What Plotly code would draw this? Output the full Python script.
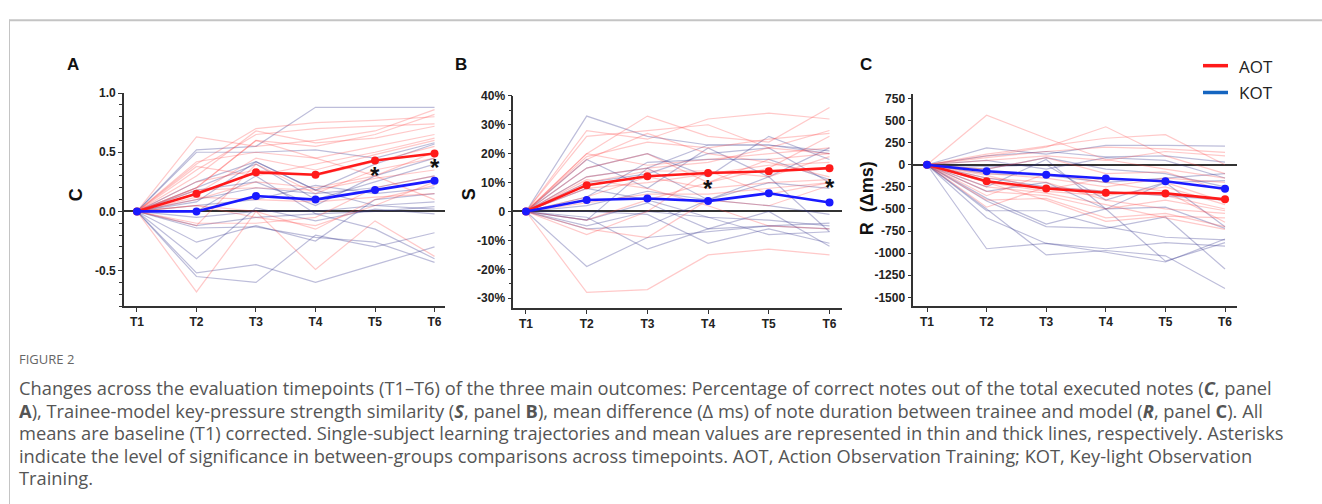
import plotly.graph_objects as go

W, H = 1322, 504
timepoints = ["T1", "T2", "T3", "T4", "T5", "T6"]

# ---------------- Panel A: C (correct notes) ----------------
aot_c_mean = [0, 0.15, 0.33, 0.31, 0.43, 0.49]
kot_c_mean = [0, 0.00, 0.13, 0.10, 0.18, 0.26]
aot_c_subjects = [
    [0, 0.63, 0.55, 0.60, 0.68, 0.86],
    [0, 0.40, 0.70, 0.75, 0.77, 0.80],
    [0, 0.35, 0.65, 0.70, 0.72, 0.74],
    [0, 0.30, 0.68, 0.58, 0.62, 0.72],
    [0, 0.20, 0.60, 0.55, 0.65, 0.82],
    [0, 0.42, 0.50, 0.45, 0.55, 0.65],
    [0, 0.38, 0.30, 0.40, 0.50, 0.62],
    [0, 0.15, 0.45, 0.35, 0.48, 0.60],
    [0, 0.25, 0.35, 0.30, 0.42, 0.55],
    [0, 0.10, 0.25, 0.20, 0.30, 0.50],
    [0, -0.12, 0.40, 0.15, 0.35, 0.45],
    [0, 0.18, 0.20, 0.18, 0.28, 0.35],
    [0, -0.68, 0.00, -0.15, 0.10, 0.22],
    [0, 0.05, 0.00, -0.49, -0.08, -0.38],
    [0, -0.10, -0.10, -0.05, 0.20, 0.30],
    [0, 0.12, 0.10, 0.08, 0.12, 0.15],
    [0, 0.20, 0.60, 0.45, 0.30, 0.10],
    [0, 0.05, -0.05, -0.12, 0.05, 0.25],
]
kot_c_subjects = [
    [0, 0.52, 0.55, 0.88, 0.88, 0.88],
    [0, 0.50, 0.50, 0.52, 0.45, 0.58],
    [0, 0.25, 0.42, 0.18, 0.40, 0.57],
    [0, 0.18, 0.25, 0.05, 0.30, 0.45],
    [0, 0.20, 0.40, 0.10, 0.25, 0.40],
    [0, 0.10, 0.20, 0.15, 0.20, 0.30],
    [0, 0.05, 0.10, 0.22, 0.15, 0.20],
    [0, -0.05, 0.00, 0.00, 0.05, 0.08],
    [0, -0.12, -0.05, -0.02, 0.00, 0.04],
    [0, -0.26, -0.12, -0.25, 0.10, 0.15],
    [0, -0.40, 0.03, -0.08, 0.02, -0.02],
    [0, -0.52, -0.45, -0.60, -0.45, -0.30],
    [0, -0.55, -0.60, -0.20, -0.30, -0.18],
    [0, -0.14, -0.13, -0.22, -0.26, -0.43],
    [0, 0.00, 0.30, -0.02, -0.15, -0.40],
    [0, 0.08, 0.42, 0.18, 0.05, 0.02],
]
c_ticks = [-0.5, 0.0, 0.5, 1.0]
c_ticktext = ["-0.5", "0.0", "0.5", "1.0"]

# ---------------- Panel B: S (strength similarity) ----------------
aot_s_mean = [0, 0.091, 0.122, 0.133, 0.139, 0.150]
kot_s_mean = [0, 0.040, 0.045, 0.036, 0.063, 0.031]
aot_s_subjects = [
    [0, 0.20, 0.33, 0.26, 0.24, 0.36],
    [0, 0.28, 0.25, 0.32, 0.34, 0.32],
    [0, 0.26, 0.28, 0.30, 0.22, 0.28],
    [0, 0.19, 0.24, 0.22, 0.25, 0.27],
    [0, 0.20, 0.16, 0.18, 0.20, 0.22],
    [0, 0.15, 0.20, 0.10, 0.15, 0.26],
    [0, 0.12, 0.15, 0.17, 0.22, 0.20],
    [0, 0.10, 0.14, 0.14, 0.12, 0.19],
    [0, 0.08, 0.10, 0.13, 0.16, 0.17],
    [0, 0.05, 0.12, 0.08, 0.10, 0.11],
    [0, 0.03, 0.06, 0.06, 0.08, 0.10],
    [0, -0.03, 0.04, 0.10, 0.18, 0.20],
    [0, -0.08, 0.00, 0.14, 0.06, 0.10],
    [0, -0.28, -0.27, -0.15, -0.13, -0.15],
    [0, -0.06, -0.09, 0.04, 0.02, 0.09],
    [0, 0.11, 0.08, 0.02, -0.05, -0.06],
    [0, 0.18, 0.27, 0.20, 0.17, 0.12],
]
kot_s_subjects = [
    [0, 0.33, 0.26, 0.23, 0.23, 0.20],
    [0, 0.18, 0.08, 0.22, 0.12, 0.22],
    [0, 0.15, 0.20, 0.12, 0.26, 0.18],
    [0, 0.10, 0.13, 0.20, 0.22, 0.10],
    [0, 0.05, 0.17, 0.18, 0.18, 0.11],
    [0, 0.02, 0.07, 0.04, 0.10, 0.08],
    [0, -0.03, 0.15, 0.04, 0.12, -0.07],
    [0, -0.06, -0.05, 0.04, 0.02, -0.01],
    [0, -0.03, 0.03, -0.06, -0.05, -0.04],
    [0, -0.19, -0.09, -0.07, -0.05, -0.06],
    [0, -0.02, -0.13, -0.06, 0.00, -0.12],
    [0, 0.00, -0.01, -0.11, -0.06, -0.11],
    [0, -0.05, 0.00, -0.02, -0.08, -0.07],
    [0, 0.08, 0.04, -0.02, -0.03, -0.05],
    [0, 0.12, 0.15, 0.23, 0.23, 0.21],
]
s_ticks = [-0.3, -0.2, -0.1, 0, 0.1, 0.2, 0.3, 0.4]
s_ticktext = ["-30%", "-20%", "-10%", "0", "10%", "20%", "30%", "40%"]

# ---------------- Panel C: R (duration difference, ms) ----------------
aot_r_mean = [0, -186, -268, -316, -324, -391]
kot_r_mean = [0, -74, -112, -156, -186, -272]
aot_r_subjects = [
    [0, 560, 300, 60, -50, -150],
    [0, 100, 200, 430, 100, -100],
    [0, 120, 210, 300, 340, 0],
    [0, 80, 150, 200, 180, 140],
    [0, 50, 100, 50, 150, 100],
    [0, -100, -150, -250, -150, -200],
    [0, -200, -300, -350, -250, -450],
    [0, -300, -350, -500, -400, -520],
    [0, -480, -250, -300, -350, -500],
    [0, -400, -380, -600, -550, -700],
    [0, -150, -200, -400, -500, -550],
    [0, -250, -320, -450, -600, -730],
    [0, -350, -100, -200, -300, -650],
    [0, -50, 80, -100, -80, -300],
    [0, -200, -400, -640, -580, -600],
    [0, -120, -280, -150, -200, -420],
]
kot_r_subjects = [
    [0, 190, 120, 220, 220, 210],
    [0, 100, 150, 90, 100, 30],
    [0, 50, -50, 80, 50, -150],
    [0, -50, 80, -50, -100, -250],
    [0, -100, -120, -200, -150, -100],
    [0, -300, -200, -500, -200, -700],
    [0, -380, -670, -500, -480, -720],
    [0, -520, -520, -700, -820, -850],
    [0, -600, -890, -950, -880, -920],
    [0, -950, -890, -990, -1100, -840],
    [0, -500, -1020, -970, -1030, -1400],
    [0, -410, -700, -720, -590, -1180],
    [0, -250, 60, -500, -1090, -880],
    [0, -20, 0, -400, -200, -180],
    [0, -150, -250, -300, -350, -400],
]
r_ticks = [-1500, -1250, -1000, -750, -500, -250, 0, 250, 500, 750]
r_ticktext = [str(v) for v in r_ticks]

# significance asterisks: (panel, timepoint index, y position)
stars = [("A", 4, 0.31), ("A", 5, 0.38), ("B", 3, 0.084), ("B", 5, 0.087)]

group_names = ["AOT", "KOT"]

# ---------------- styling ----------------
RED_THIN = "rgba(255,60,60,0.28)"
BLUE_THIN = "rgba(50,50,140,0.32)"
RED_MEAN = "#ff1a1a"
BLUE_MEAN = "#1a1aff"
LEG_RED = "#ff1a1a"
LEG_BLUE = "#1565c0"
AXIS_COL = "#333333"
FONT = "Liberation Sans, Arial, sans-serif"

xi = list(range(len(timepoints)))
fig = go.Figure()

panels = [
    ("x", "y", aot_c_subjects, kot_c_subjects, aot_c_mean, kot_c_mean),
    ("x2", "y2", aot_s_subjects, kot_s_subjects, aot_s_mean, kot_s_mean),
    ("x3", "y3", aot_r_subjects, kot_r_subjects, aot_r_mean, kot_r_mean),
]
for xa, ya, aot_sub, kot_sub, aot_m, kot_m in panels:
    for s in kot_sub:
        fig.add_trace(go.Scatter(x=xi, y=s, mode="lines", xaxis=xa, yaxis=ya,
                                 line=dict(color=BLUE_THIN, width=1.2),
                                 showlegend=False, hoverinfo="skip"))
    for s in aot_sub:
        fig.add_trace(go.Scatter(x=xi, y=s, mode="lines", xaxis=xa, yaxis=ya,
                                 line=dict(color=RED_THIN, width=1.2),
                                 showlegend=False, hoverinfo="skip"))
    fig.add_trace(go.Scatter(x=xi, y=aot_m, mode="lines+markers", xaxis=xa, yaxis=ya,
                             line=dict(color=RED_MEAN, width=2.6),
                             marker=dict(size=8, color=RED_MEAN),
                             name=group_names[0], showlegend=False))
    fig.add_trace(go.Scatter(x=xi, y=kot_m, mode="lines+markers", xaxis=xa, yaxis=ya,
                             line=dict(color=BLUE_MEAN, width=2.6),
                             marker=dict(size=8, color=BLUE_MEAN),
                             name=group_names[1], showlegend=False))


def px_x(p):
    return p / W


def px_y(p):
    return 1 - p / H


tickfont = dict(family=FONT, size=12, color="#222", weight="bold")

common_x = dict(tickmode="array", tickvals=xi, ticktext=timepoints, showline=True,
                linecolor=AXIS_COL, linewidth=1.6, ticks="outside", ticklen=4,
                tickwidth=1.4, tickcolor=AXIS_COL, showgrid=False, zeroline=False,
                tickfont=tickfont, fixedrange=True)
common_y = dict(tickmode="array", showline=True, linecolor=AXIS_COL, linewidth=1.6,
                ticks="outside", ticklen=4, tickwidth=1.4, tickcolor=AXIS_COL,
                showgrid=False, zeroline=True, zerolinecolor=AXIS_COL,
                zerolinewidth=1.6, tickfont=tickfont, fixedrange=True)

fig.update_layout(
    xaxis=dict(common_x, domain=[px_x(124), px_x(445)], range=[-0.218, 5.176], anchor="y"),
    yaxis=dict(common_y, domain=[px_y(303.3), px_y(87.3)], range=[-0.8, 1.0],
               tickvals=c_ticks, ticktext=c_ticktext, anchor="x",
               minor=dict(ticks="outside", dtick=0.1, ticklen=3, tickcolor=AXIS_COL, tickwidth=1.2)),
    xaxis2=dict(common_x, domain=[px_x(513.3), px_x(842)], range=[-0.209, 5.206], anchor="y2"),
    yaxis2=dict(common_y, domain=[px_y(305), px_y(90.1)], range=[-0.333, 0.40],
                tickvals=s_ticks, ticktext=s_ticktext, anchor="x2",
                minor=dict(ticks="outside", dtick=0.05, ticklen=3, tickcolor=AXIS_COL, tickwidth=1.2)),
    xaxis3=dict(common_x, domain=[px_x(913.3), px_x(1236.7)], range=[-0.230, 5.196], anchor="y3"),
    yaxis3=dict(common_y, domain=[px_y(303.4), px_y(88.3)], range=[-1600, 800],
                tickvals=r_ticks, ticktext=r_ticktext, anchor="x3"),
)

ann = []
# panel letters
for letter, x in [("A", 73), ("B", 461), ("C", 866)]:
    ann.append(dict(text=letter, x=px_x(x), y=px_y(58), xref="paper", yref="paper",
                    showarrow=False, xanchor="center", yanchor="middle",
                    font=dict(family=FONT, size=17, color="#111", weight="bold")))
# axis titles
for t, x, y in [("C", 76, 191), ("S", 469, 190), ("R  (Δms)", 867, 194)]:
    ann.append(dict(text=t, x=px_x(x), y=px_y(y), xref="paper", yref="paper",
                    showarrow=False, textangle=-90, xanchor="center", yanchor="middle",
                    font=dict(family=FONT, size=18, color="#111", weight="bold")))
# asterisks
axmap = {"A": ("x", "y"), "B": ("x2", "y2")}
for p, i, yv in stars:
    xr, yr = axmap[p]
    ann.append(dict(text="*", x=i, y=yv, xref=xr, yref=yr, showarrow=False,
                    xanchor="center", yanchor="middle", yshift=-1,
                    font=dict(family=FONT, size=24, color="#111", weight="bold")))
# legend text
for name, y in [("AOT", 60), ("KOT", 87)]:
    ann.append(dict(text=name, x=px_x(1237), y=px_y(y), xref="paper", yref="paper",
                    showarrow=False, xanchor="left", yanchor="middle",
                    font=dict(family="Open Sans, sans-serif", size=17, color="#222")))
# caption
cap_font = dict(family="Open Sans, sans-serif", size=18.3, color="#555")
ann.append(dict(text="FIGURE 2", x=px_x(17), y=px_y(357), xref="paper", yref="paper",
                showarrow=False, xanchor="left", yanchor="middle",
                font=dict(family="Open Sans, sans-serif", size=13, color="#666")))
caption_lines = [
    "Changes across the evaluation timepoints (T1–T6) of the three main outcomes: Percentage of correct notes out of the total executed notes (<b><i>C</i></b>, panel",
    "<b>A</b>), Trainee-model key-pressure strength similarity (<b><i>S</i></b>, panel <b>B</b>), mean difference (Δ ms) of note duration between trainee and model (<b><i>R</i></b>, panel <b>C</b>). All",
    "means are baseline (T1) corrected. Single-subject learning trajectories and mean values are represented in thin and thick lines, respectively. Asterisks",
    "indicate the level of significance in between-groups comparisons across timepoints. AOT, Action Observation Training; KOT, Key-light Observation",
    "Training.",
]
for k, line in enumerate(caption_lines):
    ann.append(dict(text=line, x=px_x(17), y=px_y(386 + 22.8 * k), xref="paper", yref="paper",
                    showarrow=False, xanchor="left", yanchor="middle", font=cap_font))

shapes = [
    # legend samples
    dict(type="line", xref="paper", yref="paper", x0=px_x(1203), x1=px_x(1228),
         y0=px_y(59.5), y1=px_y(59.5), line=dict(color=LEG_RED, width=3.5)),
    dict(type="line", xref="paper", yref="paper", x0=px_x(1203), x1=px_x(1228),
         y0=px_y(86.7), y1=px_y(86.7), line=dict(color=LEG_BLUE, width=3.5)),
    # page frame
    dict(type="line", xref="paper", yref="paper", x0=px_x(9), x1=1,
         y0=px_y(13.5), y1=px_y(13.5), line=dict(color="#c4c4c4", width=2)),
    dict(type="line", xref="paper", yref="paper", x0=px_x(9.5), x1=px_x(9.5),
         y0=px_y(13), y1=0, line=dict(color="#c4c4c4", width=1)),
]

fig.update_layout(
    width=W, height=H, margin=dict(l=0, r=0, t=0, b=0),
    paper_bgcolor="white", plot_bgcolor="white",
    annotations=ann, shapes=shapes, showlegend=False,
    font=dict(family=FONT),
)

fig.write_html(
    "out.html",
    config={"displayModeBar": False},
    post_script=(
        "document.body.style.margin='0';document.body.style.padding='0';"
        "document.body.style.overflow='hidden';"
        "var d=document.getElementById('{plot_id}');"
        "d.style.position='fixed';d.style.top='0px';d.style.left='0px';"
    ),
)
